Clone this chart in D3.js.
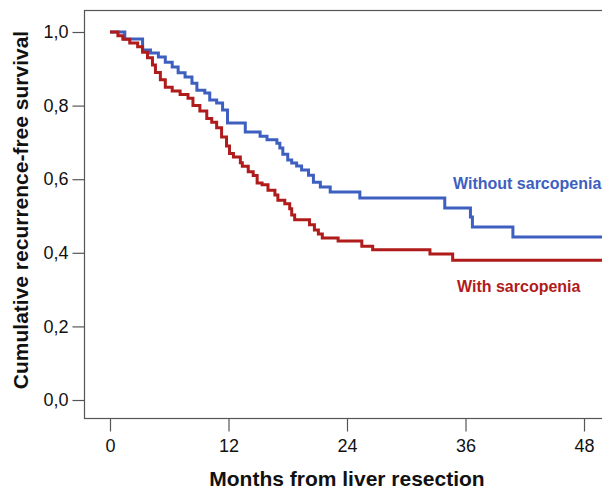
<!DOCTYPE html>
<html>
<head>
<meta charset="utf-8">
<script src="https://cdn.jsdelivr.net/npm/d3@7"></script>
<style>
  body { margin: 0; background: #fff; }
  svg { display: block; font-family: "Liberation Sans", Arial, sans-serif; }
</style>
</head>
<body>
<svg id="chart"></svg>
<script>
// Kaplan-Meier steps (months, survival after the drop)
const withoutTimes = [0, 1.5, 3.3, 4.1, 4.9, 5.6, 6.3, 6.9, 7.6, 8.3, 8.8, 9.6, 10.1, 10.8, 11.4, 11.9,
  13.7, 15.2, 15.9, 16.9, 17.2, 17.5, 18.0, 18.4, 18.9, 19.4, 20.1, 20.6, 21.3, 22.3, 25.3,
  33.9, 36.5, 36.7, 40.8, 50];
const withoutSurv = [1.0, 0.981, 0.951, 0.943, 0.932, 0.918, 0.905, 0.889, 0.878, 0.861, 0.842, 0.834, 0.815, 0.807, 0.788, 0.753,
  0.728, 0.717, 0.707, 0.698, 0.685, 0.668, 0.652, 0.644, 0.636, 0.625, 0.611, 0.592, 0.579, 0.565, 0.549,
  0.522, 0.497, 0.470, 0.443, 0.443];

const withTimes = [0, 0.8, 1.3, 2.0, 2.8, 3.3, 3.8, 4.3, 4.6, 5.1, 5.6, 6.3, 7.1, 7.9, 8.4, 9.1, 9.8,
  10.3, 10.8, 11.3, 11.8, 12.1, 12.5, 13.2, 13.4, 14.0, 14.5, 14.9, 15.4, 16.0, 16.7, 17.0, 17.7,
  18.2, 18.4, 18.7, 20.2, 20.7, 21.1, 21.5, 23.1, 25.5, 26.6, 32.4, 34.7, 50];
const withSurv = [1.0, 0.99, 0.98, 0.97, 0.96, 0.945, 0.93, 0.91, 0.89, 0.87, 0.85, 0.84, 0.83, 0.82, 0.80, 0.785, 0.765,
  0.755, 0.74, 0.715, 0.69, 0.67, 0.66, 0.645, 0.635, 0.62, 0.61, 0.59, 0.585, 0.57, 0.557, 0.543, 0.533,
  0.52, 0.503, 0.49, 0.476, 0.462, 0.451, 0.44, 0.432, 0.418, 0.408, 0.397, 0.38, 0.38];

const xTicks = [0, 12, 24, 36, 48];
const yTicks = [0, 0.2, 0.4, 0.6, 0.8, 1.0];

const seriesNames = ["Without sarcopenia", "With sarcopenia"];
const seriesColors = ["#3d5fc0", "#b01b1b"];

let width = 602;
let height = 489;

let frameLeft = 84, frameTop = 10, frameBottom = 418, frameRight = 610;

let svg = d3.select("#chart").attr("width", width).attr("height", height);

// x: 0 -> 110px, 48 -> 584px ; y: 0 -> 400px, 1 -> 32px
let xScale = d3.scaleLinear().domain([0, 48]).range([110, 584]);
let yScale = d3.scaleLinear().domain([0, 1]).range([400, 32]);

// decimal comma like the original
const comma = d3.formatLocale({decimal: ",", thousands: ".", grouping: [3], currency: ["", ""]}).format(".1f");

svg.append("defs").append("clipPath").attr("id", "plot-clip")
   .append("rect")
   .attr("x", frameLeft).attr("y", frameTop)
   .attr("width", frameRight - frameLeft).attr("height", frameBottom - frameTop);

// frame
svg.append("rect")
   .attr("x", frameLeft + 0.5).attr("y", frameTop + 0.5)
   .attr("width", frameRight - frameLeft).attr("height", frameBottom - frameTop)
   .attr("fill", "none").attr("stroke", "#555").attr("stroke-width", 1.2);

// axes
let yAxis = d3.axisLeft(yScale).tickValues(yTicks).tickFormat(comma).tickSize(12).tickPadding(4);
let xAxis = d3.axisBottom(xScale).tickValues(xTicks).tickFormat(d3.format("d")).tickSize(13).tickPadding(8);

let gy = svg.append("g").attr("transform", `translate(${frameLeft + 0.5},0)`).call(yAxis);
let gx = svg.append("g").attr("transform", `translate(0,${frameBottom + 0.5})`).call(xAxis);

[gy, gx].forEach(g => {
    g.select(".domain").remove();
    g.selectAll(".tick line").attr("stroke", "#555").attr("stroke-width", 1.2);
    g.selectAll(".tick text")
     .attr("fill", "#111")
     .style("font-size", "18px")
     .style("font-family", "'Liberation Sans', Arial, sans-serif");
});

// curves
let line = d3.line()
    .x(d => xScale(d[0]))
    .y(d => yScale(d[1]))
    .curve(d3.curveStepAfter);

let series = [
    d3.zip(withoutTimes, withoutSurv),
    d3.zip(withTimes, withSurv)
];

svg.append("g").attr("clip-path", "url(#plot-clip)")
   .selectAll("path")
   .data(series)
   .enter()
   .append("path")
   .attr("d", line)
   .attr("fill", "none")
   .attr("stroke", (d, i) => seriesColors[i])
   .attr("stroke-width", 3)
   .attr("stroke-linejoin", "miter");

// curve labels
svg.append("text")
   .attr("x", 453).attr("y", 189)
   .attr("fill", seriesColors[0])
   .style("font-size", "16px").style("font-weight", "bold")
   .text(seriesNames[0]);

svg.append("text")
   .attr("x", 457).attr("y", 292)
   .attr("fill", seriesColors[1])
   .style("font-size", "16px").style("font-weight", "bold")
   .text(seriesNames[1]);

// axis titles
svg.append("text")
   .attr("x", 347).attr("y", 486)
   .attr("text-anchor", "middle")
   .attr("fill", "#111")
   .style("font-size", "21px").style("font-weight", "bold")
   .text("Months from liver resection");

svg.append("text")
   .attr("transform", "translate(28,210) rotate(-90)")
   .attr("text-anchor", "middle")
   .attr("fill", "#111")
   .style("font-size", "21px").style("font-weight", "bold")
   .text("Cumulative recurrence-free survival");
</script>
</body>
</html>
